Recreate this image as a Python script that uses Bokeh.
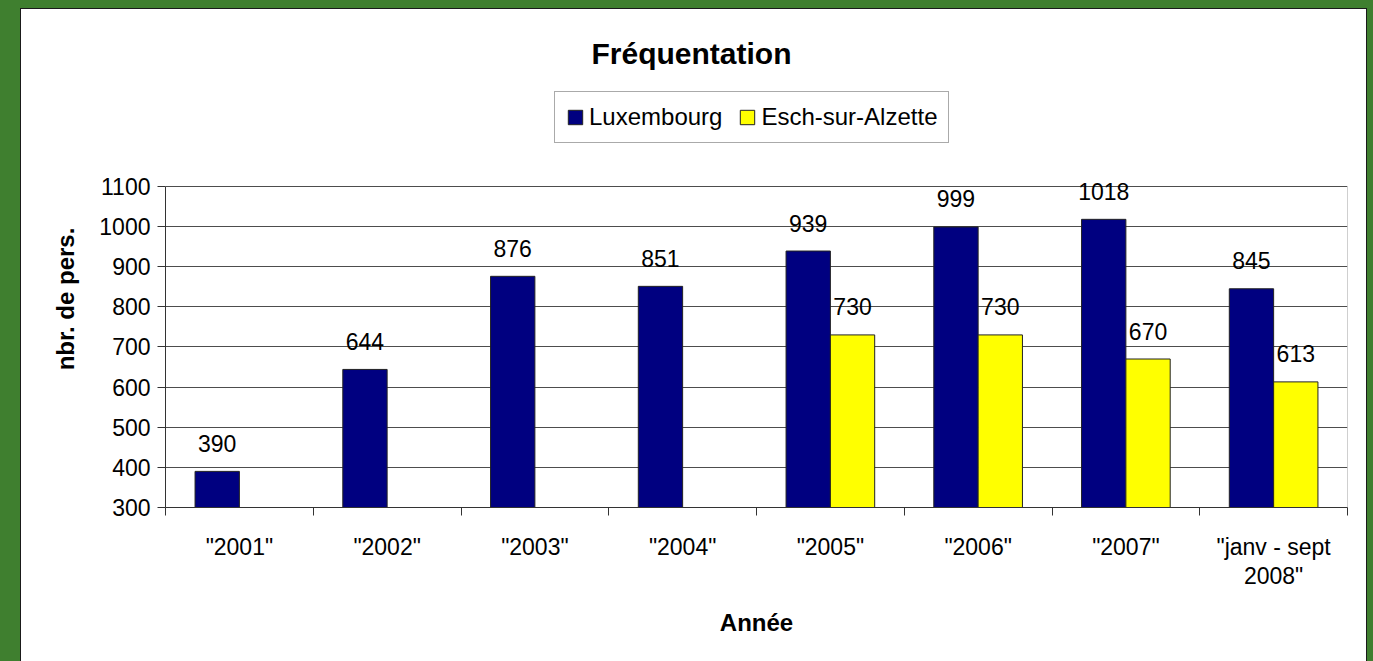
from bokeh.plotting import figure
from bokeh.models import (ColumnDataSource, Legend, LegendItem, Title, FixedTicker,
                          GlobalInlineStyleSheet, Range1d)
from bokeh.embed import file_html
from bokeh.resources import INLINE
from bokeh.core.properties import value

# ---------------- data ----------------
categories = ['"2001"', '"2002"', '"2003"', '"2004"', '"2005"', '"2006"', '"2007"',
              '"janv - sept\n2008"']
luxembourg = [390, 644, 876, 851, 939, 999, 1018, 845]
esch = [None, None, None, None, 730, 730, 670, 613]
y_ticks = [300, 400, 500, 600, 700, 800, 900, 1000, 1100]
series_names = ["Luxembourg", "Esch-sur-Alzette"]
title_text = "Fréquentation"
x_label = "Année"
y_label = "nbr. de pers."

FONT = "Liberation Sans"
NAVY = "#000080"
YELLOW = "#FFFF00"
GREEN = "#3f7f2f"

n = len(categories)
centers = list(range(1, n + 1))
bar_w = 0.3

lux_src = ColumnDataSource(dict(x=[c - bar_w / 2 for c in centers], top=luxembourg,
                                label=[str(v) for v in luxembourg]))
e_idx = [i for i, v in enumerate(esch) if v is not None]
esch_src = ColumnDataSource(dict(x=[centers[i] + bar_w / 2 for i in e_idx],
                                 top=[esch[i] for i in e_idx],
                                 label=[str(esch[i]) for i in e_idx]))

# frame extends above the top tick so legend and labels sit inside it
y_top = 1339
p = figure(width=1345, height=652, output_backend="svg", toolbar_location=None,
           x_range=Range1d(0.5, n + 0.5), y_range=Range1d(y_ticks[0], y_top),
           min_border_left=144, min_border_right=19, min_border_top=81,
           min_border_bottom=154, title=None)
p.margin = (9, 0, 0, 21)
p.stylesheets = [GlobalInlineStyleSheet(
    css="html, body { margin: 0; padding: 0; background-color: %s; }" % GREEN)]
p.styles = {"outline": "1px solid #1a1a1a", "background-color": "white"}

p.background_fill_color = "white"
p.border_fill_color = "white"
p.outline_line_color = None
p.outline_line_alpha = 0
p.outline_line_width = 0

r1 = p.vbar(x="x", top="top", bottom=y_ticks[0], width=bar_w, source=lux_src,
            fill_color=NAVY, line_color="#222222", line_width=1)
r2 = p.vbar(x="x", top="top", bottom=y_ticks[0], width=bar_w, source=esch_src,
            fill_color=YELLOW, line_color="#222222", line_width=1)

# light right border of plot area
p.segment(x0=[n + 0.5], x1=[n + 0.5], y0=[y_ticks[0]], y1=[y_ticks[-1]],
          line_color="#a0a0a0", line_width=1)

for src in (lux_src, esch_src):
    p.text(x="x", y="top", text="label", source=src, text_align="center",
           text_baseline="middle", y_offset=-28, text_font=value(FONT),
           text_font_size="23px", text_color="black")

# axes
p.xaxis.ticker = FixedTicker(ticks=centers, minor_ticks=[c - 0.5 for c in centers] + [n + 0.5])
p.xaxis.major_label_overrides = {c: lab for c, lab in zip(centers, categories)}
p.xaxis.major_tick_line_color = None
p.xaxis.major_tick_out = 0
p.xaxis.major_tick_in = 0
p.xaxis.minor_tick_in = 0
p.xaxis.minor_tick_out = 8
p.xaxis.minor_tick_line_color = "#333333"
p.xaxis.major_label_standoff = 18
p.xaxis.major_label_text_line_height = 1.15
p.xaxis.axis_label = x_label
p.xaxis.axis_label_standoff = 17

p.yaxis.ticker = FixedTicker(ticks=y_ticks)
p.yaxis.bounds = (y_ticks[0], y_ticks[-1])
p.yaxis.minor_tick_line_color = None
p.yaxis.major_tick_in = 0
p.yaxis.major_tick_out = 8
p.yaxis.major_tick_line_color = "#333333"
p.yaxis.major_label_standoff = 7
p.yaxis.axis_label = y_label
p.yaxis.axis_label_standoff = 17

for ax in (p.xaxis, p.yaxis):
    ax.axis_line_color = "#333333"
    ax.major_label_text_font = FONT
    ax.major_label_text_font_size = "23px"
    ax.major_label_text_color = "black"
    ax.axis_label_text_font = FONT
    ax.axis_label_text_font_size = "24px"
    ax.axis_label_text_font_style = "bold"
    ax.axis_label_text_color = "black"

p.xgrid.visible = False
p.ygrid.ticker = FixedTicker(ticks=y_ticks)
p.ygrid.grid_line_color = "#4d4d4d"
p.ygrid.grid_line_width = 1

legend = Legend(items=[LegendItem(label=series_names[0], renderers=[r1]),
                       LegendItem(label=series_names[1], renderers=[r2])],
                orientation="horizontal", location=(389, 364),
                label_text_font=FONT, label_text_font_size="24px",
                label_text_color="black",
                glyph_width=18, glyph_height=18, label_standoff=5, spacing=16,
                padding=11, margin=0, border_line_color="#555555", border_line_width=1,
                background_fill_color="white", background_fill_alpha=1.0)
p.add_layout(legend, "center")

t = Title(text=title_text, text_font=FONT, text_font_size="30px", text_font_style="bold",
          align="left", offset=426, standoff=42, text_color="black")
p.add_layout(t, "above")

open("out.html", "w").write(file_html(p, INLINE))
